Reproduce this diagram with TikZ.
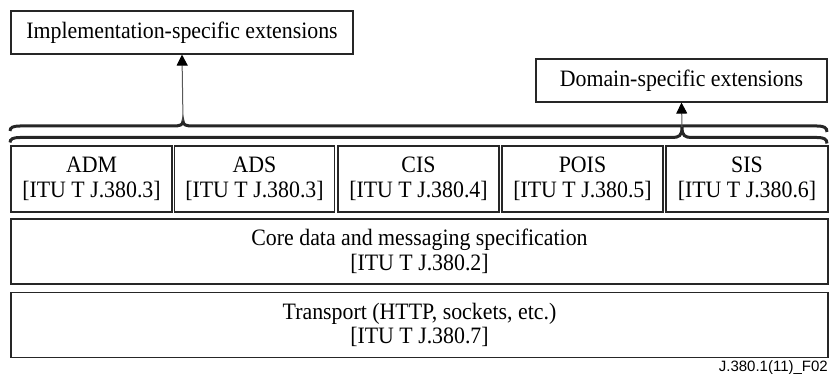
\documentclass[tikz,border=0pt]{standalone}
\usepackage{fontspec}
\setmainfont{Liberation Serif}
\newfontfamily\boxfont[FakeStretch=0.93]{Liberation Serif}
\newfontfamily\labelfont{Liberation Sans}
\usetikzlibrary{arrows.meta}
\begin{document}
\begin{tikzpicture}[x=1pt,y=-1pt,
  box/.style={draw=black!85,line width=1.2pt,inner sep=0pt,align=center,
    font=\boxfont\fontsize{23.5}{24.5}\selectfont},
  bracepath/.style={draw=black!85,line width=3pt},
  arr/.style={draw=black!65,line width=1pt,-{Triangle[length=11pt,width=11pt,fill=black,color=black]}}]
\useasboundingbox (0,0) rectangle (831,374);
% top boxes
\node[box,minimum width=342pt,minimum height=43pt] (impl) at (182,32.5) {Implementation-specific extensions};
\node[box,minimum width=291pt,minimum height=43pt] (dom) at (681.5,80.5) {Domain-specific extensions};
% braces
\draw[bracepath] (10,131) .. controls (10,127.5) and (13,126) .. (20,126) -- (173,126)
  .. controls (180,126) and (183,125) .. (183,121)
  .. controls (183,125) and (186,126) .. (193,126) -- (817,126)
  .. controls (824,126) and (827,127.5) .. (827,132);
\draw[bracepath] (10,142.5) .. controls (10,139) and (13,137.5) .. (20,137.5) -- (672,137.5)
  .. controls (679,137.5) and (682,136) .. (682,127)
  .. controls (682,136) and (685,137.5) .. (692,137.5) -- (817,137.5)
  .. controls (824,137.5) and (827,139) .. (827,143.5);
\coordinate (itip) at (183,121);
\coordinate (dtip) at (682,127);
\draw[arr] (itip) -- (impl.south);
\draw[arr] (dtip) -- (dom.south);
% five spec boxes
\node[box,minimum width=161pt,minimum height=66pt] (adm) at (91.5,179) {ADM\\{[ITU T J.380.3]}};
\node[box,minimum width=160pt,minimum height=66pt] (ads) at (254.5,179) {ADS\\{[ITU T J.380.3]}};
\node[box,minimum width=161pt,minimum height=66pt] (cis) at (418.5,179) {CIS\\{[ITU T J.380.4]}};
\node[box,minimum width=161pt,minimum height=66pt] (pois) at (582.5,179) {POIS\\{[ITU T J.380.5]}};
\node[box,minimum width=162pt,minimum height=66pt] (sis) at (747,179) {SIS\\{[ITU T J.380.6]}};
% core & transport
\node[box,minimum width=817pt,minimum height=65pt] (core) at (419.5,251.5) {Core data and messaging specification\\{[ITU T J.380.2]}};
\node[box,minimum width=817pt,minimum height=65pt] (trans) at (419.5,325) {Transport (HTTP, sockets, etc.)\\{[ITU T J.380.7]}};
% figure id
\node[anchor=base east,inner sep=0pt,font=\labelfont\fontsize{15}{15}\selectfont] (fid) at (828,372) {J.380.1(11)\_F02};
\end{tikzpicture}
\end{document}
